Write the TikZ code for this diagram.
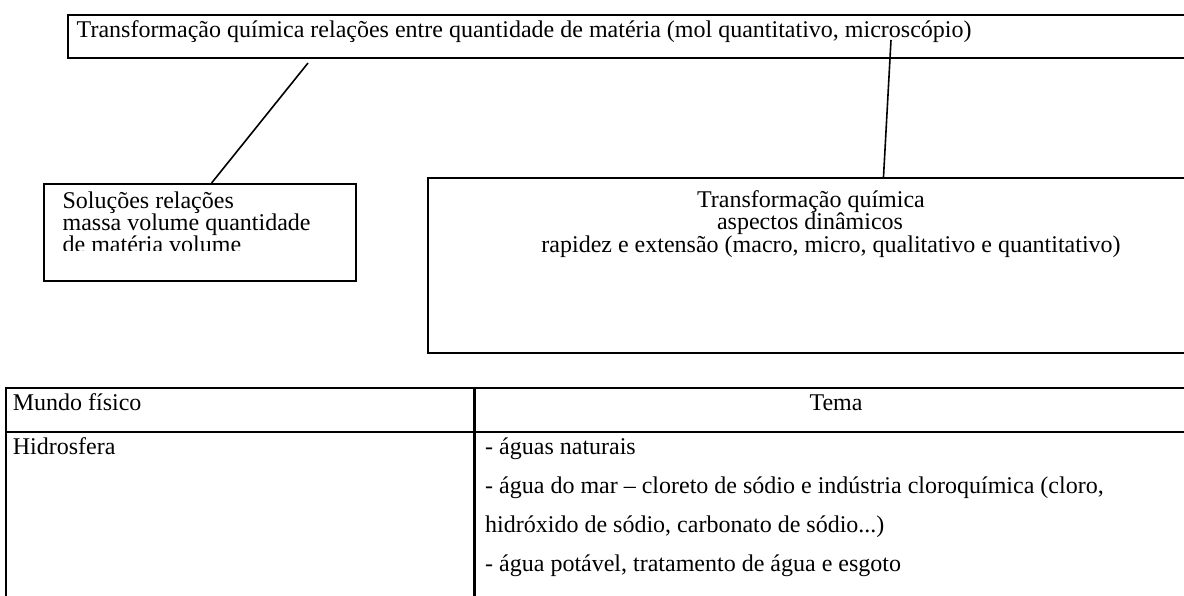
\documentclass[tikz,border=0pt]{standalone}
\usepackage{fontspec}
\setmainfont{Liberation Serif}

\begin{document}
\begin{tikzpicture}[x=1pt, y=-1pt,
    box/.style={draw, line width=2.2pt, inner sep=0pt, anchor=north west},
    link/.style={line width=1.6pt},
    txt/.style={font=\fontsize{24}{28}\selectfont, inner sep=0pt}]
  \useasboundingbox (0,0) rectangle (1184,595);
  % caixas
  \node[box, minimum width=1200, minimum height=43] (topbox) at (66.6,14) {};
  \node[box, minimum width=312.5, minimum height=97] (solbox) at (42.5,183) {};
  \node[box, minimum width=800, minimum height=175] (dynbox) at (427,177) {};
  \node[txt, anchor=base west] (toptxt) at (76.5,37)
    {Transformação química relações entre quantidade de matéria (mol quantitativo, microscópio)};
  \begin{scope}
    \clip (42.5,183) rectangle (355,250);
    \foreach \n/\y/\t in {1/208/{Soluções relações},
                          2/230/{massa volume quantidade},
                          3/252/{de matéria volume}}{
      \node[txt, anchor=base west] (sol\n) at (62.4,\y) {\t};
    }
  \end{scope}
  \foreach \n/\x/\y/\t in {1/811/207/{Transformação química},
                           2/810/229.5/{aspectos dinâmicos},
                           3/831/252/{rapidez e extensão (macro, micro, qualitativo e quantitativo)}}{
    \node[txt, anchor=base] (dyn\n) at (\x,\y) {\t};
  }
  % ligações
  \coordinate (l1a) at (308,63);
  \coordinate (l1b) at (211.6,183);
  \coordinate (l2a) at (891,40);
  \coordinate (l2b) at (883.5,177);
  \draw[link] (l1a) -- (l1b);
  \draw[link] (l2a) -- (l2b);
  % tabela
  \draw[line width=2.2pt] (6,600) -- (6,388) -- (1200,388);
  \draw[line width=2.2pt] (6,432) -- (1200,432);
  \draw[line width=2.2pt] (474.5,388) -- (474.5,600);
  \node[txt, anchor=base west] (mundo) at (12.6,410) {Mundo físico};
  \node[txt, anchor=base] (tema) at (836,410) {Tema};
  \node[txt, anchor=base west] (hidro) at (12.6,454) {Hidrosfera};
  \foreach \n/\y/\t in {1/454/{- águas naturais},
                        2/493/{- água do mar -- cloreto de sódio e indústria cloroquímica (cloro,},
                        3/532/{hidróxido de sódio, carbonato de sódio...)},
                        4/571/{- água potável, tratamento de água e esgoto}}{
    \node[txt, anchor=base west] (tema\n) at (485,\y) {\t};
  }
\end{tikzpicture}
\end{document}
